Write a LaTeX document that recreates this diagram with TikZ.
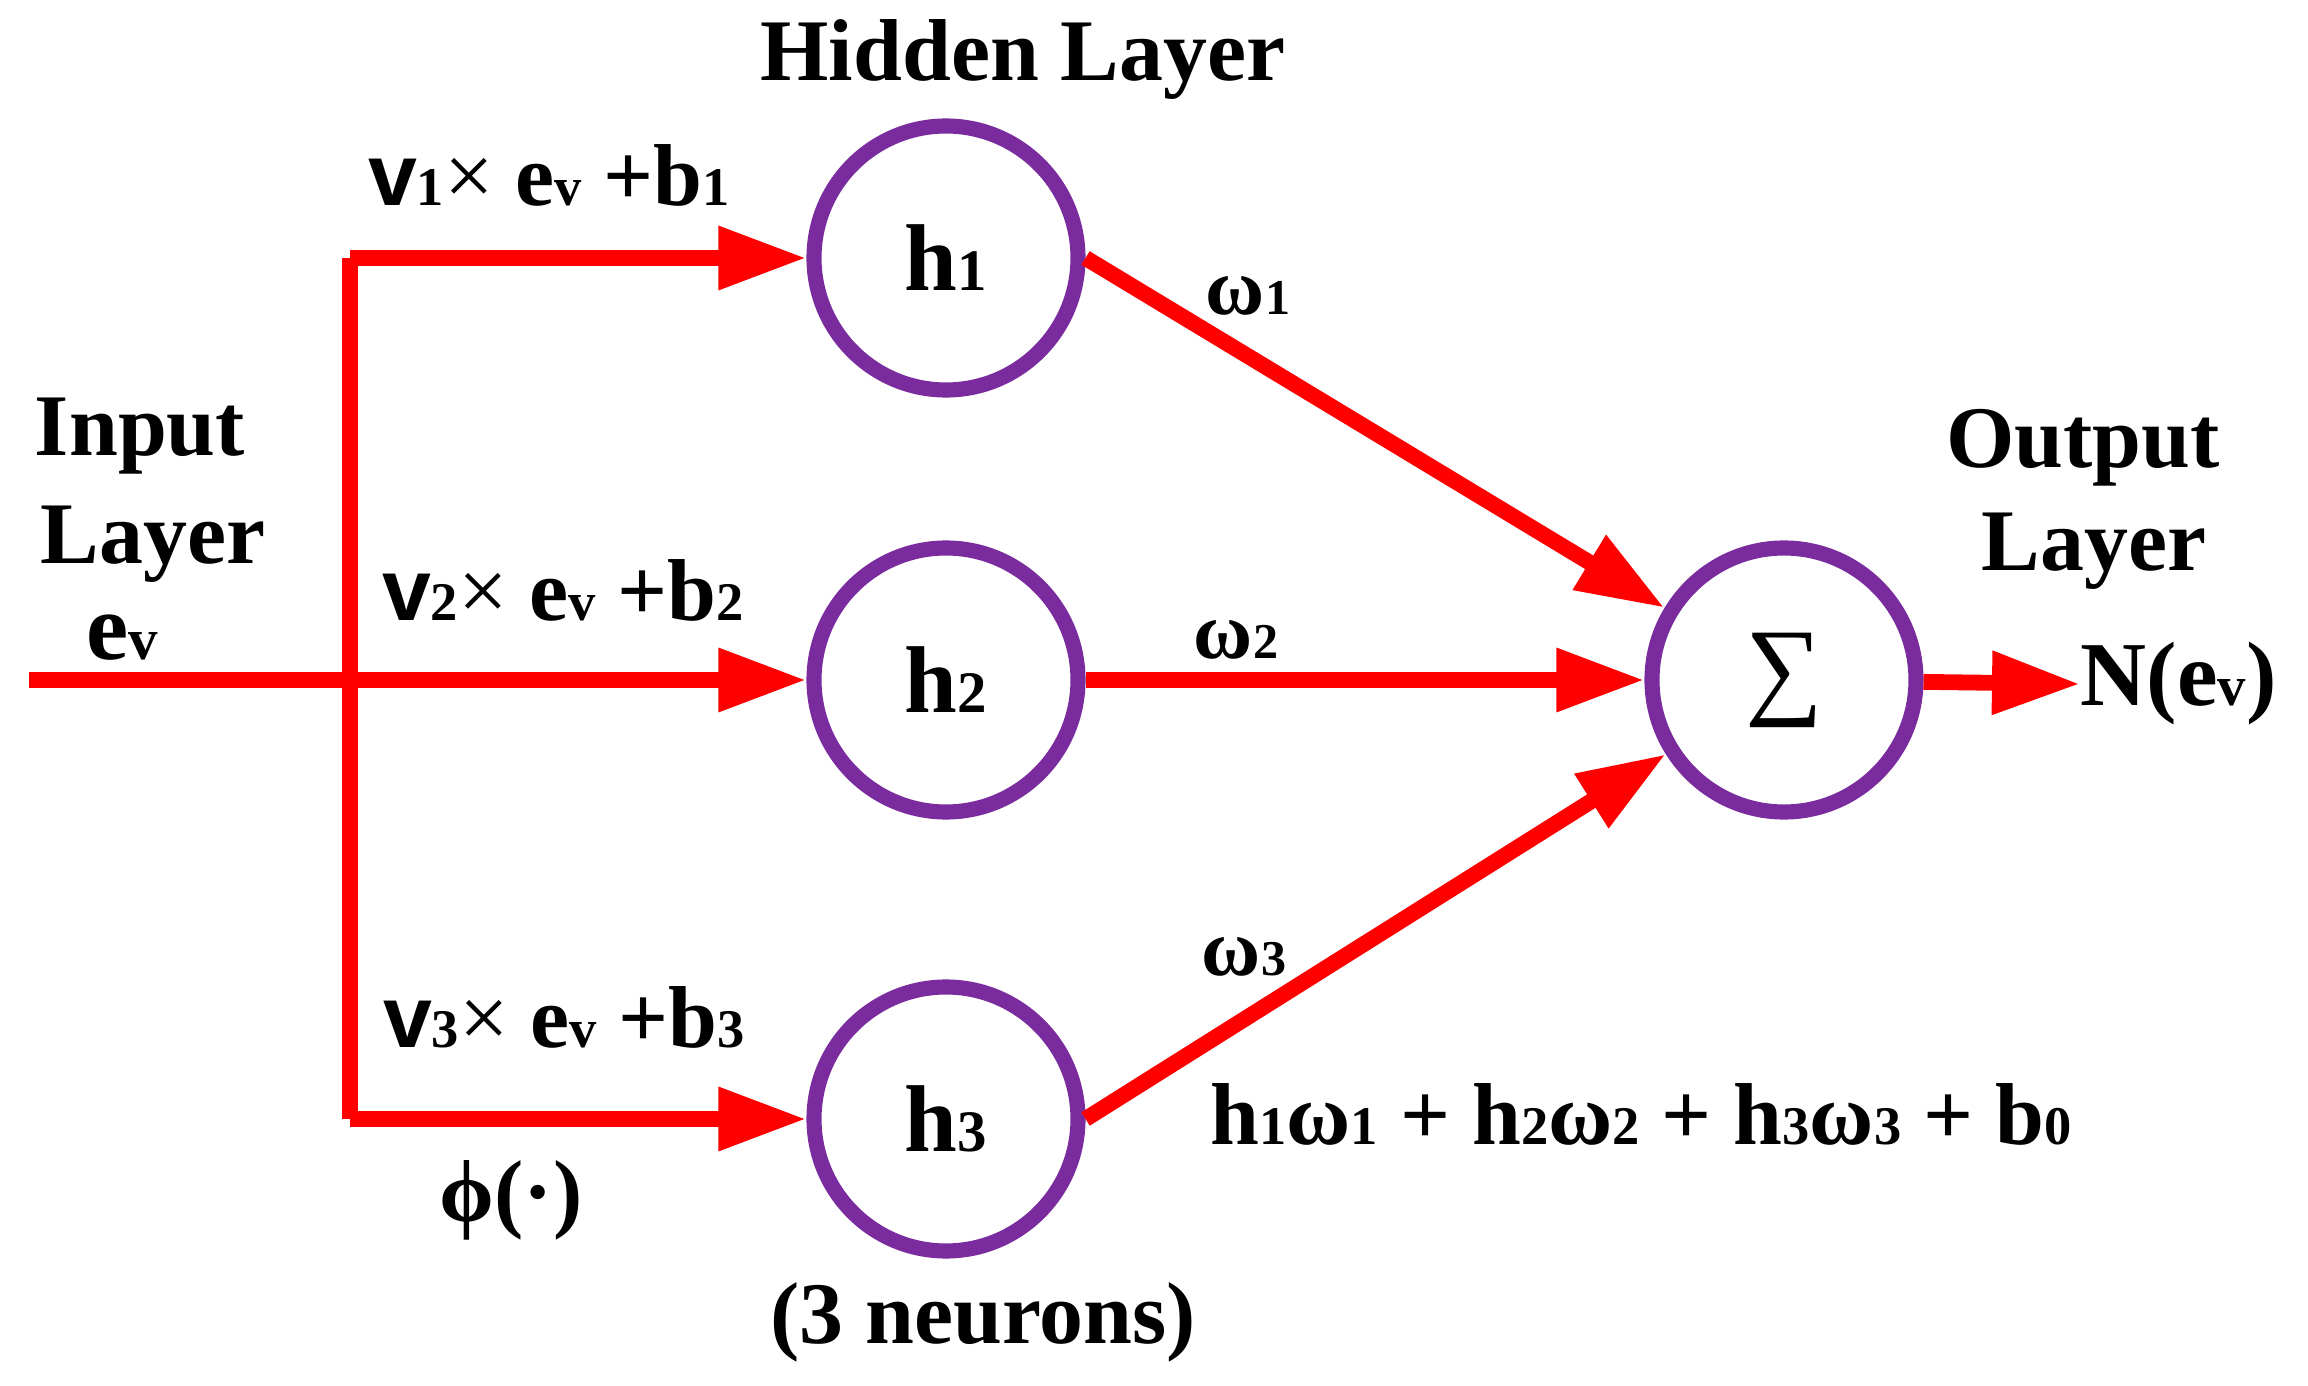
\documentclass[tikz,border=0pt]{standalone}
\usepackage{fontspec}
\setmainfont{Liberation Serif}
\setsansfont{Liberation Sans}
\usepackage{tikz}
\usetikzlibrary{arrows.meta, positioning}
\definecolor{nred}{RGB}{255,0,0}
\definecolor{npurple}{RGB}{122,44,158}
\makeatletter
\newcommand{\ix}[1]{{\fontsize{\fpeval{0.62*\f@size}}{0}\selectfont #1}}
\makeatother

\begin{document}
\begin{tikzpicture}[
        neuron/.style={circle, draw=npurple, line width=4.3pt, minimum size=2.64cm, inner sep=0pt, font=\fontsize{27}{30}\selectfont\bfseries},
        wire/.style={draw=nred, line width=4.5pt},
        feed/.style={wire, -{Triangle[length=0.88cm, width=0.6cm]}},
        lbl/.style={font=\fontsize{25}{28}\selectfont\bfseries, inner sep=0pt},
        wlbl/.style={font=\fontsize{23}{26}\selectfont\bfseries, inner sep=0pt}
    ]
        \useasboundingbox (0,0) rectangle (23.08,-13.86);

        % Neurons
        \node[neuron] (h1) at (9.46,-2.58) {h\ix{1}};
        \node[neuron] (h2) at (9.46,-6.80) {h\ix{2}};
        \node[neuron] (h3) at (9.46,-11.19) {h\ix{3}};
        \node[neuron] (sum) at (17.84,-6.80) {\mdseries\fontsize{31}{31}\selectfont ∑};

        \coordinate (in) at (0.29,-6.80);
        \coordinate (split) at (3.50,-6.80);

        % Input branches
        \draw[wire] (split |- h1) -- (split |- h3);
        \draw[feed] (split |- h1) -- (h1);
        \draw[feed] (in) -- (h2);
        \draw[feed] (split |- h3) -- (h3);

        % Weighted connections
        \draw[feed] (h1.east) -- (sum);
        \draw[feed] (h2) -- (sum);
        \draw[feed] (h3.east) -- (sum);

        % Output
        \node[lbl, anchor=west, font=\fontsize{26}{28}\selectfont\bfseries] (nev) at (20.80,-6.84) {N(e\ix{v})};
        \draw[feed] (sum) -- (nev.west);

        % Layer titles
        \node[lbl, anchor=base] (hid) at (10.23,-0.81) {Hidden Layer};
        \node[lbl, anchor=base] (inp) at (1.40,-4.56) {Input};
        \node[lbl, anchor=base] (inl) at (1.53,-5.64) {Layer};
        \node[lbl, anchor=base, font=\fontsize{27}{30}\selectfont\bfseries] (ev) at (1.22,-6.60) {e\ix{v}};
        \node[lbl, anchor=base] (outp) at (20.83,-4.68) {Output};
        \node[lbl, anchor=base] (outl) at (20.94,-5.71) {Layer};

        % Branch labels
        \node[lbl, anchor=base] (v1) at (5.49,-2.06) {\textsf{v}\ix{1}\textmd{×} e\ix{v} +b\ix{1}};
        \node[lbl, anchor=base] (v2) at (5.63,-6.21) {\textsf{v}\ix{2}\textmd{×} e\ix{v} +b\ix{2}};
        \node[lbl, anchor=base] (v3) at (5.64,-10.48) {\textsf{v}\ix{3}\textmd{×} e\ix{v} +b\ix{3}};
        \node[lbl] (phi) at (5.11,-12.00) {ϕ(·)};
        \node[lbl] (cnt) at (9.83,-13.22) {(3 neurons)};

        % Weights
        \node[wlbl] (w1) at (12.48,-2.96) {ω\ix{1}};
        \node[wlbl] (w2) at (12.36,-6.40) {ω\ix{2}};
        \node[wlbl] (w3) at (12.44,-9.57) {ω\ix{3}};
        \node[lbl] (eq) at (16.41,-11.14) {h\ix{1}ω\ix{1} + h\ix{2}ω\ix{2} + h\ix{3}ω\ix{3} + b\ix{0}};
    \end{tikzpicture}
\end{document}
